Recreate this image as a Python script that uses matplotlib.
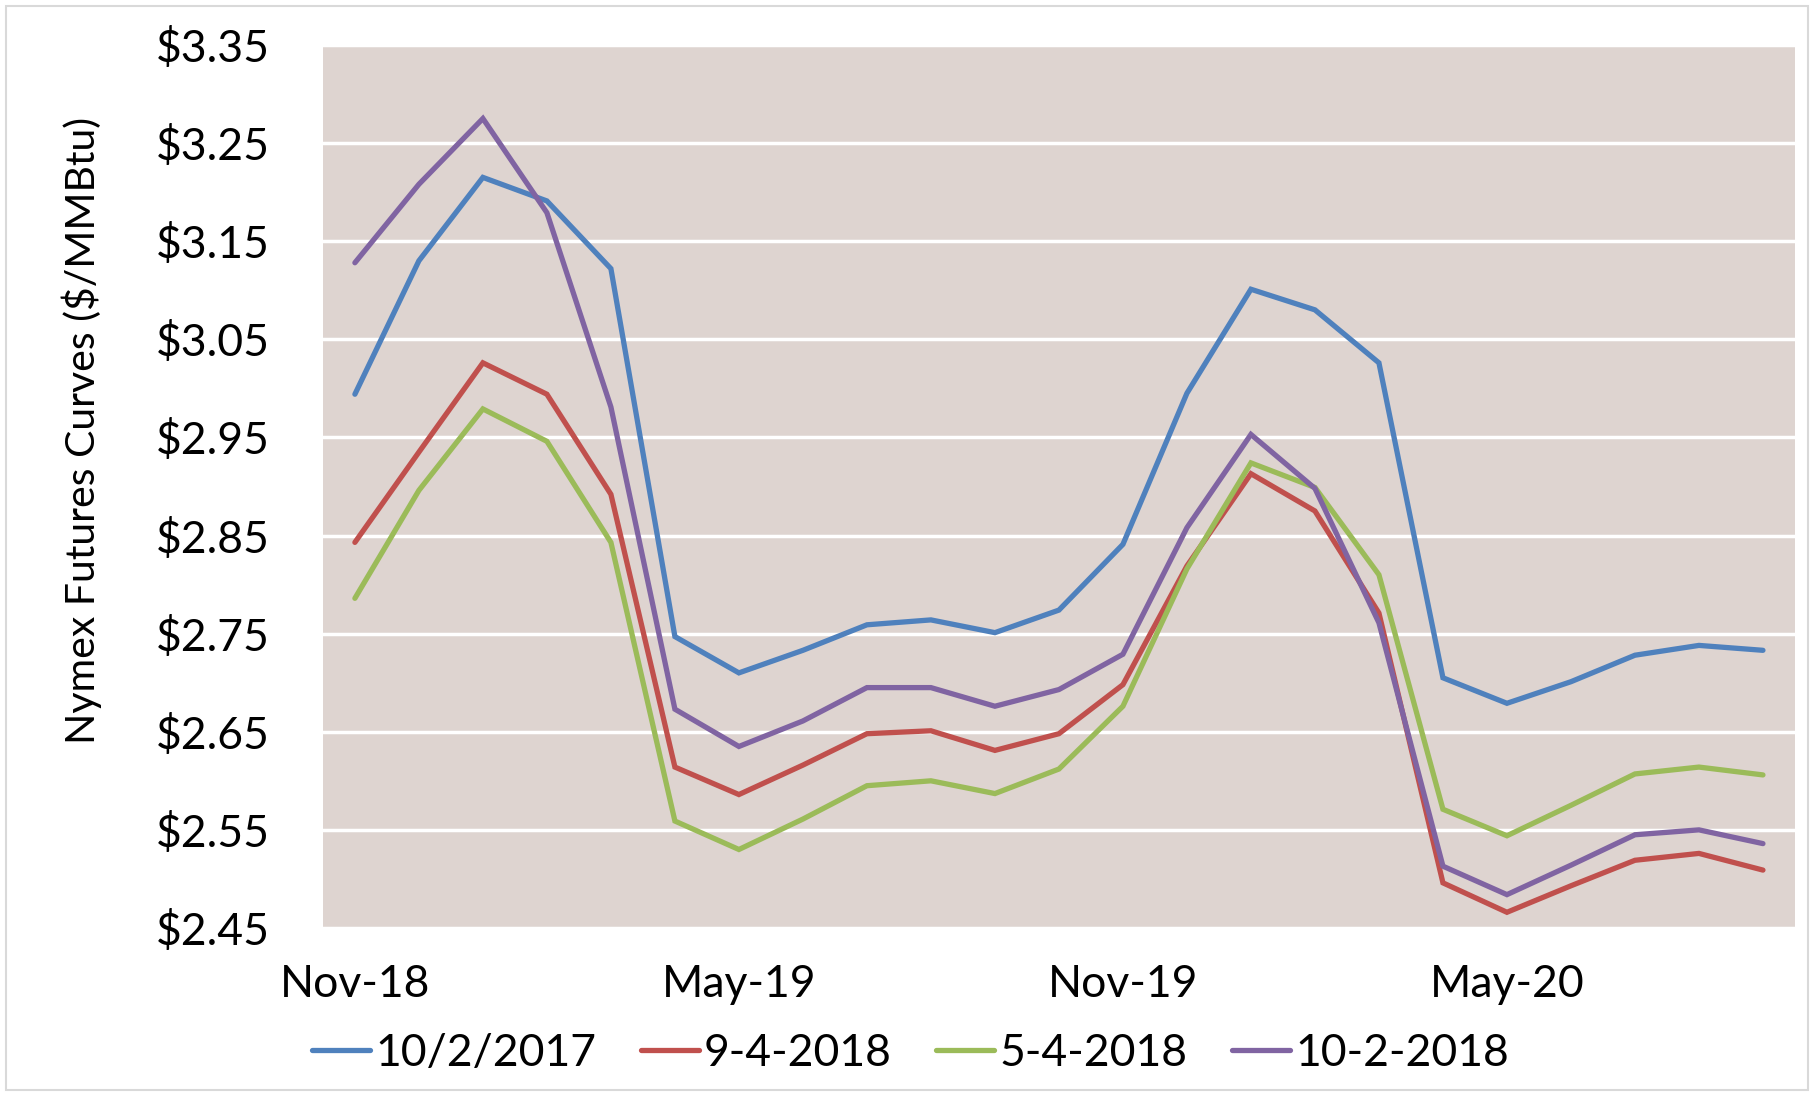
import matplotlib
matplotlib.use("Agg")
import matplotlib.pyplot as plt
from matplotlib.patches import Rectangle

months = ["Nov-18", "Dec-18", "Jan-19", "Feb-19", "Mar-19", "Apr-19", "May-19", "Jun-19",
          "Jul-19", "Aug-19", "Sep-19", "Oct-19", "Nov-19", "Dec-19", "Jan-20", "Feb-20",
          "Mar-20", "Apr-20", "May-20", "Jun-20", "Jul-20", "Aug-20", "Sep-20"]

s_2017_10_02 = [2.994, 3.130, 3.215, 3.191, 3.122, 2.747, 2.710, 2.733, 2.759, 2.764, 2.751, 2.774,
                2.841, 2.995, 3.101, 3.080, 3.026, 2.705, 2.679, 2.701, 2.728, 2.738, 2.733]
s_2018_09_04 = [2.843, 2.935, 3.026, 2.994, 2.892, 2.614, 2.586, 2.616, 2.648, 2.651, 2.631, 2.648,
                2.698, 2.819, 2.913, 2.875, 2.771, 2.496, 2.466, 2.493, 2.519, 2.526, 2.509]
s_2018_05_04 = [2.786, 2.896, 2.979, 2.946, 2.843, 2.559, 2.530, 2.561, 2.595, 2.600, 2.587, 2.612,
                2.676, 2.816, 2.924, 2.899, 2.810, 2.571, 2.544, 2.575, 2.607, 2.614, 2.606]
s_2018_10_02 = [3.128, 3.208, 3.275, 3.179, 2.981, 2.673, 2.635, 2.661, 2.695, 2.695, 2.676, 2.693,
                2.729, 2.858, 2.953, 2.898, 2.761, 2.513, 2.484, 2.514, 2.545, 2.550, 2.536]

series_names = ["10/2/2017", "9-4-2018", "5-4-2018", "10-2-2018"]
series_values = [s_2017_10_02, s_2018_09_04, s_2018_05_04, s_2018_10_02]
colors = ["#4F81BD", "#C0504D", "#9BBB59", "#8064A2"]

y_ticks = [2.45, 2.55, 2.65, 2.75, 2.85, 2.95, 3.05, 3.15, 3.25, 3.35]
x_tick_labels = ["Nov-18", "May-19", "Nov-19", "May-20"]

plt.rcParams["font.family"] = ["Lato", "DejaVu Sans"]

fig = plt.figure(figsize=(18.14, 10.96), dpi=100)
fig.patch.set_facecolor("white")
ax = fig.add_axes([0.178, 0.1533, 0.8115, 0.8057])
ax.set_facecolor("#DED4D0")

x = list(range(len(months)))
for name, vals, c in zip(series_names, series_values, colors):
    ax.plot(x, vals, color=c, lw=3.8, label=name, solid_capstyle="round", solid_joinstyle="miter")

ax.set_xlim(-0.5, len(months) - 0.5)
ax.set_ylim(2.45, 3.35)
ax.set_yticks(y_ticks)
ax.set_yticklabels([f"${v:.2f}" for v in y_ticks])
ax.set_xticks([months.index(m) for m in x_tick_labels])
ax.set_xticklabels(x_tick_labels)
ax.grid(axis="y", color="white", lw=2.5)
ax.set_axisbelow(True)
for sp in ax.spines.values():
    sp.set_visible(False)
ax.tick_params(axis="both", length=0, labelsize=32, colors="black")
ax.tick_params(axis="y", pad=38)
ax.tick_params(axis="x", pad=26)

ax.set_ylabel("Nymex Futures Curves ($/MMBtu)", fontsize=29.5)
ax.yaxis.set_label_coords(-0.150, 0.563)

fig.legend(loc="center", bbox_to_anchor=(0.502, 0.039), ncol=4, frameon=False,
           fontsize=32, handlelength=1.3, handletextpad=0.12, columnspacing=1.0)

fig.patches.append(Rectangle((6 / 1814, 6 / 1096), 1 - 12 / 1814, 1 - 12 / 1096,
                             transform=fig.transFigure, fill=False,
                             edgecolor="#D9D9D9", lw=1.5))

fig.savefig("out.png", dpi=100)
